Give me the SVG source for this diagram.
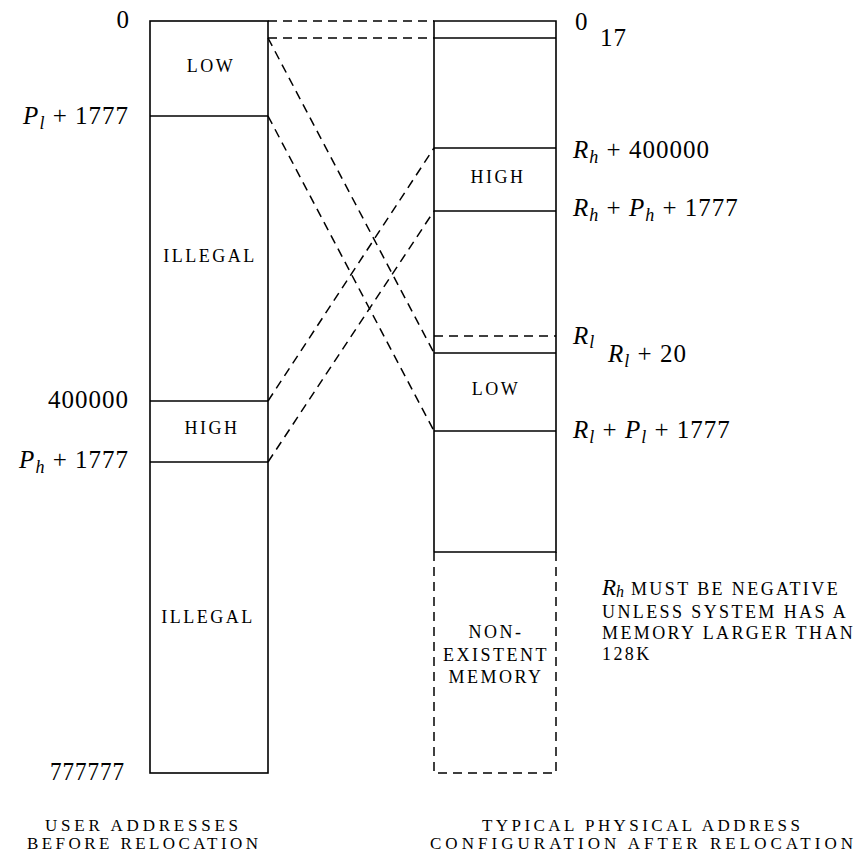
<svg xmlns="http://www.w3.org/2000/svg" width="863" height="852" viewBox="0 0 863 852">
<style>
.box{fill:none;stroke:#000;stroke-width:1.6}
.ln{stroke:#000;stroke-width:1.6;fill:none}
.dash{stroke:#000;stroke-width:1.5;fill:none;stroke-dasharray:9,6}
.lab{font-family:"Liberation Serif",serif;font-size:25px;letter-spacing:1px;fill:#000}
.sc{font-family:"Liberation Serif",serif;font-size:18px;letter-spacing:2.5px;fill:#000;text-anchor:middle}
.note{font-family:"Liberation Serif",serif;font-size:18px;letter-spacing:2.4px;fill:#000}
.cap{font-family:"Liberation Serif",serif;font-size:17px;fill:#000}
.it{font-style:italic}
.sub{font-style:italic;font-size:18px}
</style>
<rect width="863" height="852" fill="#fff"/>
<g id="user-space">
<rect class="box" x="150" y="21" width="118" height="752"/>
<line class="ln" x1="150" y1="116" x2="268" y2="116"/>
<line class="ln" x1="150" y1="401" x2="268" y2="401"/>
<line class="ln" x1="150" y1="462" x2="268" y2="462"/>
<text class="sc" x="211" y="72">LOW</text>
<text class="sc" x="210" y="262">ILLEGAL</text>
<text class="sc" x="212" y="434">HIGH</text>
<text class="sc" x="208" y="623">ILLEGAL</text>
<text class="lab" x="130" y="28" text-anchor="end">0</text>
<text class="lab" x="129" y="124" text-anchor="end"><tspan class="it">P</tspan><tspan class="sub" dy="5">l</tspan><tspan dy="-5"> + 1777</tspan></text>
<text class="lab" x="129" y="408" text-anchor="end">400000</text>
<text class="lab" x="129" y="468" text-anchor="end"><tspan class="it">P</tspan><tspan class="sub" dy="5">h</tspan><tspan dy="-5"> + 1777</tspan></text>
<text class="lab" x="50" y="780" font-size="24" textLength="75" lengthAdjust="spacingAndGlyphs">777777</text>
<text class="cap" x="45" y="831" textLength="193" lengthAdjust="spacing">USER ADDRESSES</text>
<text class="cap" x="27" y="849" textLength="231" lengthAdjust="spacing">BEFORE RELOCATION</text>
</g>
<g id="physical-space">
<polyline class="ln" points="434,552 434,21 556,21 556,552 434,552"/>
<polyline class="dash" points="434,552 434,773 556,773 556,552" stroke-dasharray="7,5"/>
<line class="ln" x1="434" y1="38" x2="556" y2="38"/>
<line class="ln" x1="434" y1="148" x2="556" y2="148"/>
<line class="ln" x1="434" y1="211" x2="556" y2="211"/>
<line class="dash" x1="434" y1="336" x2="556" y2="336" stroke-dasharray="7,5"/>
<line class="ln" x1="434" y1="353" x2="556" y2="353"/>
<line class="ln" x1="434" y1="431" x2="556" y2="431"/>
<text class="sc" x="498" y="183">HIGH</text>
<text class="sc" x="496" y="395">LOW</text>
<text class="sc" x="496" y="638">NON-</text>
<text class="sc" x="496" y="661">EXISTENT</text>
<text class="sc" x="496" y="683">MEMORY</text>
<text class="lab" x="575" y="30">0</text>
<text class="lab" x="600" y="46">17</text>
<text class="lab" x="573" y="158"><tspan class="it">R</tspan><tspan class="sub" dy="5">h</tspan><tspan dy="-5"> + 400000</tspan></text>
<text class="lab" x="573" y="216"><tspan class="it">R</tspan><tspan class="sub" dy="5">h</tspan><tspan dy="-5"> + </tspan><tspan class="it">P</tspan><tspan class="sub" dy="5">h</tspan><tspan dy="-5"> + 1777</tspan></text>
<text class="lab" x="573" y="344"><tspan class="it">R</tspan><tspan class="sub" dy="4">l</tspan></text>
<text class="lab" x="608" y="362"><tspan class="it">R</tspan><tspan class="sub" dy="5">l</tspan><tspan dy="-5"> + 20</tspan></text>
<text class="lab" x="573" y="438"><tspan class="it">R</tspan><tspan class="sub" dy="5">l</tspan><tspan dy="-5"> + </tspan><tspan class="it">P</tspan><tspan class="sub" dy="5">l</tspan><tspan dy="-5"> + 1777</tspan></text>
<text class="note" x="602" y="595"><tspan class="it" font-size="23" letter-spacing="0">R</tspan><tspan class="it" font-size="16" letter-spacing="0" dy="2">h</tspan><tspan dy="-2"> MUST BE NEGATIVE</tspan></text>
<text class="note" x="602" y="618">UNLESS SYSTEM HAS A</text>
<text class="note" x="602" y="639">MEMORY LARGER THAN</text>
<text class="note" x="602" y="660">128K</text>
<text class="cap" x="482" y="831" textLength="318" lengthAdjust="spacing">TYPICAL PHYSICAL ADDRESS</text>
<text class="cap" x="430" y="849" textLength="423" lengthAdjust="spacing">CONFIGURATION AFTER RELOCATION</text>
</g>
<g id="connectors">
<line class="dash" x1="268" y1="21" x2="434" y2="21"/>
<line class="dash" x1="268" y1="38" x2="434" y2="38"/>
<line class="dash" x1="268" y1="38" x2="434" y2="353"/>
<line class="dash" x1="268" y1="116" x2="434" y2="431"/>
<line class="dash" x1="268" y1="401" x2="434" y2="148"/>
<line class="dash" x1="268" y1="462" x2="434" y2="211"/>
</g>
</svg>
